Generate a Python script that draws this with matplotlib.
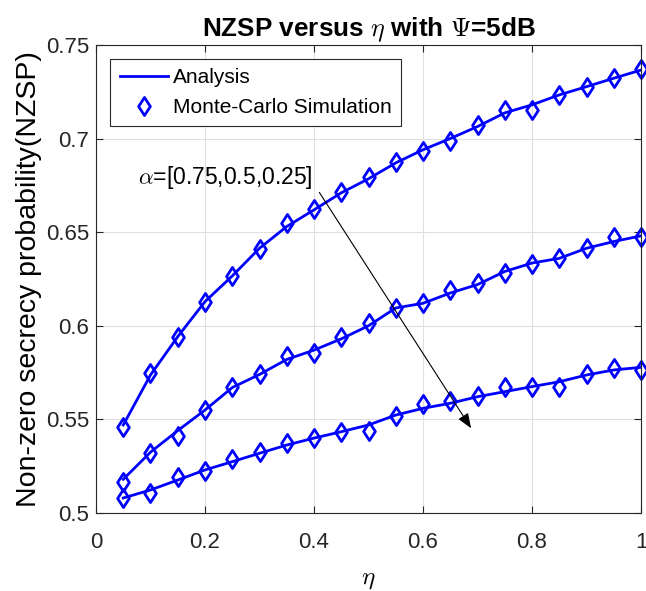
import numpy as np
import matplotlib
matplotlib.use("Agg")
import matplotlib.pyplot as plt
from matplotlib.path import Path

plt.rcParams['font.family'] = ['Liberation Sans', 'DejaVu Sans']
plt.rcParams['mathtext.fontset'] = 'cm'

# eta grid
eta = [0.05, 0.1, 0.15, 0.2, 0.25, 0.3, 0.35, 0.4, 0.45, 0.5,
       0.55, 0.6, 0.65, 0.7, 0.75, 0.8, 0.85, 0.9, 0.95, 1.0]

# analysis curves (alpha = 0.75, 0.5, 0.25)
ana_075 = [0.547, 0.5737, 0.5942, 0.6129, 0.6266, 0.6414, 0.653, 0.6619, 0.671, 0.6785,
           0.687, 0.694, 0.700, 0.7064, 0.7137, 0.718, 0.7233, 0.7277, 0.7322, 0.7366]
ana_050 = [0.518, 0.5325, 0.544, 0.555, 0.567, 0.574, 0.582, 0.587, 0.593, 0.600,
           0.6095, 0.612, 0.6175, 0.622, 0.629, 0.6335, 0.636, 0.6414, 0.645, 0.648]
ana_025 = [0.508, 0.5123, 0.5176, 0.523, 0.5274, 0.5319, 0.5363, 0.540, 0.5434, 0.547,
           0.5523, 0.5559, 0.5586, 0.5621, 0.5648, 0.5675, 0.5701, 0.5737, 0.5764, 0.5778]

# Monte-Carlo simulation points
sim_075 = [0.5458, 0.5746, 0.5942, 0.6129, 0.6266, 0.641, 0.6548, 0.6624, 0.6717, 0.6792,
           0.6877, 0.6935, 0.6987, 0.7073, 0.7153, 0.7153, 0.7233, 0.7277, 0.7325, 0.737]
sim_050 = [0.5167, 0.5319, 0.5413, 0.555, 0.5671, 0.5743, 0.5839, 0.5853, 0.5942, 0.6013,
           0.6093, 0.612, 0.6191, 0.6227, 0.628, 0.6328, 0.6364, 0.6414, 0.6473, 0.6476]
sim_025 = [0.5082, 0.5108, 0.5194, 0.5224, 0.5287, 0.5328, 0.5376, 0.5399, 0.5434, 0.5438,
           0.552, 0.5582, 0.56, 0.5625, 0.5675, 0.5675, 0.5671, 0.5743, 0.5773, 0.5764]

blue = '#0000ff'
dark = '#262626'

# matlab-like diamond, a bit wider than matplotlib's thin diamond
diamond = Path([(0, 1), (0.65, 0), (0, -1), (-0.65, 0), (0, 1)],
               [Path.MOVETO, Path.LINETO, Path.LINETO, Path.LINETO, Path.CLOSEPOLY])

fig = plt.figure(figsize=(6.46, 5.91), dpi=100)
ax = fig.add_axes([0.1486, 0.132, 0.8437, 0.792])

for i, (a, s) in enumerate([(ana_075, sim_075), (ana_050, sim_050), (ana_025, sim_025)]):
    ax.plot(eta, a, color=blue, lw=2.0, label='Analysis' if i == 0 else None)
    ax.plot(eta, s, ls='none', marker=diamond, ms=13, mfc='none', mec=blue, mew=2.0,
            label='Monte-Carlo Simulation' if i == 0 else None, clip_on=False)

ax.set_xlim(0, 1)
ax.set_ylim(0.5, 0.75)
ax.set_xticks([0, 0.2, 0.4, 0.6, 0.8, 1])
ax.set_xticklabels(['0', '0.2', '0.4', '0.6', '0.8', '1'])
ax.set_yticks([0.5, 0.55, 0.6, 0.65, 0.7, 0.75])
ax.set_yticklabels(['0.5', '0.55', '0.6', '0.65', '0.7', '0.75'])
ax.tick_params(direction='in', top=True, right=True, labelsize=16, length=5, width=0.8,
               colors=dark)
ax.tick_params(axis='x', pad=14)
ax.tick_params(axis='y', pad=5)
ax.grid(True, color='#e0e0e0', lw=0.8)
ax.set_axisbelow(True)
for sp in ax.spines.values():
    sp.set_color(dark)
    sp.set_linewidth(0.8)

ax.set_xlabel(r'$\eta$', fontsize=18, labelpad=10)
ax.set_ylabel('Non-zero secrecy probability(NZSP)', fontsize=20.5, labelpad=3)
ax.set_title(r'NZSP versus $\eta$ with $\Psi$=5dB', fontsize=18.8, fontweight='bold', pad=6)

ax.annotate('', xy=(0.691, 0.544), xytext=(0.407, 0.6725),
            arrowprops=dict(arrowstyle='-|>,head_length=0.9,head_width=0.35',
                            color='black', lw=0.8))
ax.text(0.077, 0.679, r'$\alpha$=[0.75,0.5,0.25]', fontsize=16.5, va='center', ha='left')

leg = ax.legend(loc='upper left', fontsize=15, fancybox=False, framealpha=1,
                edgecolor=dark, borderaxespad=0.68, handlelength=2.35,
                handletextpad=0.2, borderpad=0.45, labelspacing=0.5)
leg.get_frame().set_linewidth(0.8)

fig.savefig('out.png', dpi=100)
